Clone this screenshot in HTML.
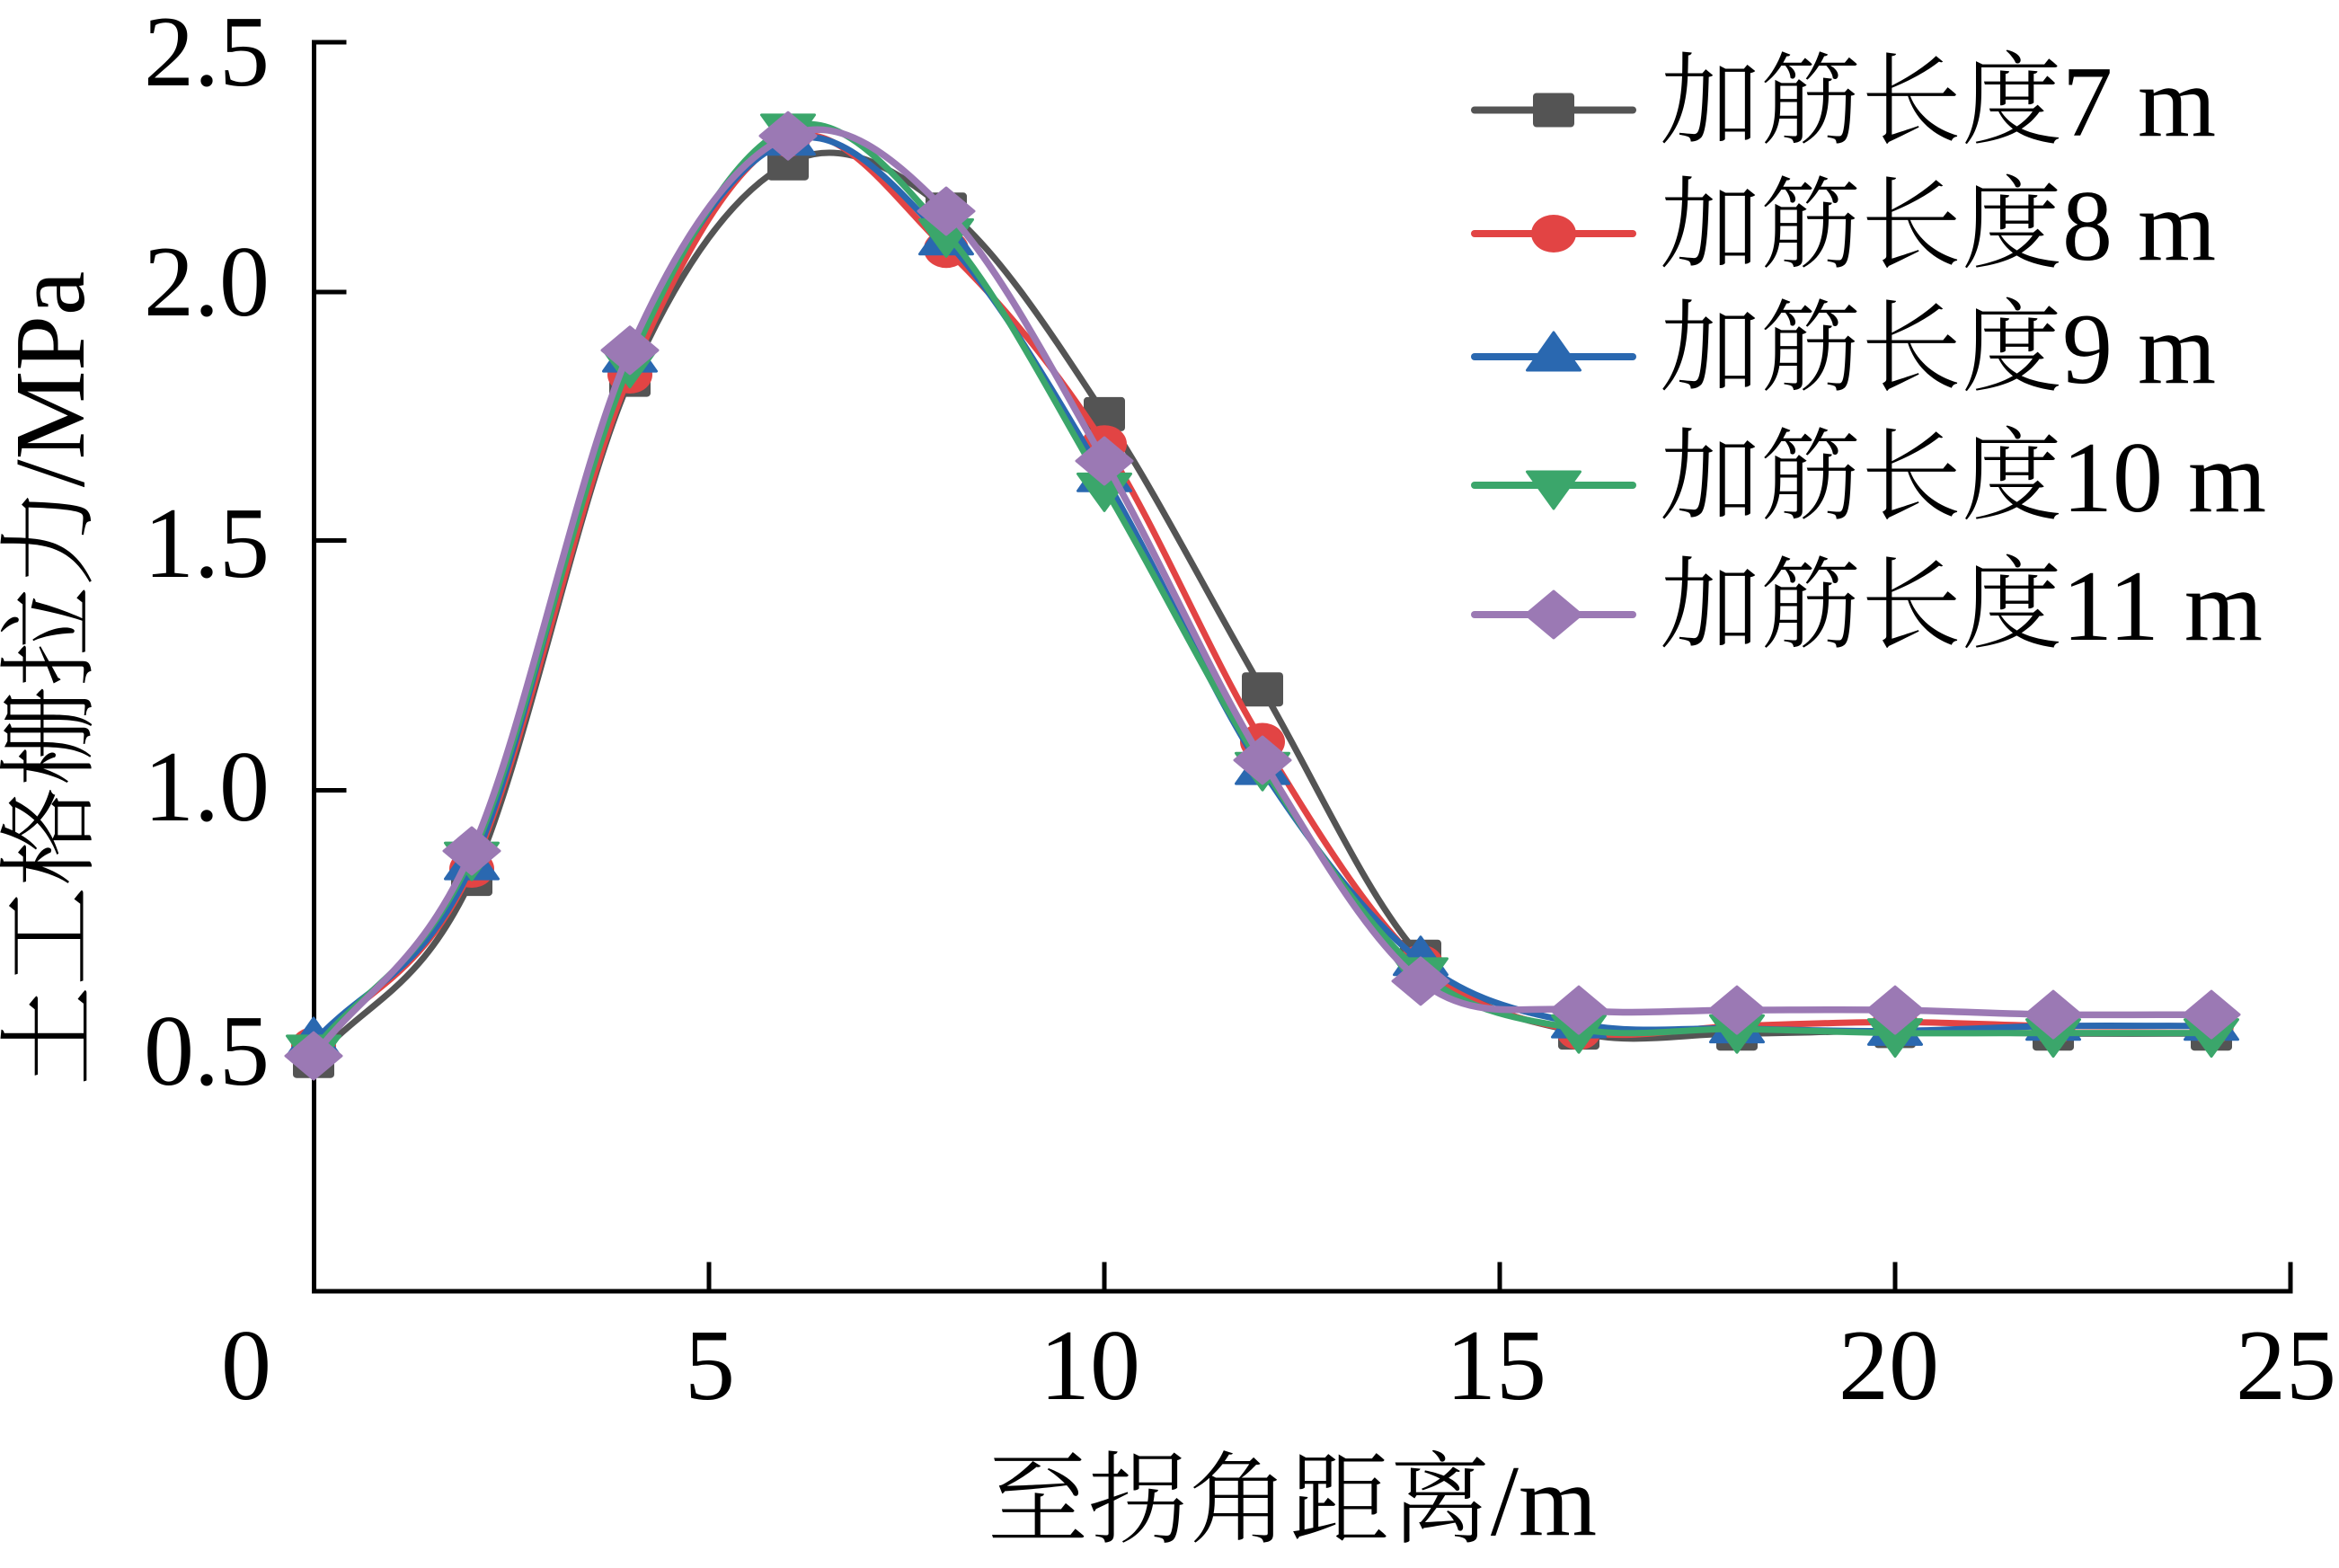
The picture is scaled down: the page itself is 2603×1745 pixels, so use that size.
<!DOCTYPE html>
<html>
<head>
<meta charset="utf-8">
<style>
  html,body{margin:0;padding:0;background:#fff;}
  svg{display:block;}
  text{font-family:"Liberation Serif","Noto Serif CJK SC",serif;fill:#000;font-weight:300;}
</style>
</head>
<body>
<svg width="2603" height="1745" viewBox="0 0 2603 1745" xmlns="http://www.w3.org/2000/svg">
  <defs>
    <g id="sq"><rect x="-23" y="-19" width="46" height="38" rx="4" ry="4" fill="#545454"/></g>
    <g id="ci"><ellipse cx="0" cy="0" rx="25" ry="21" fill="#E24444"/></g>
    <g id="tu"><polygon points="0,-27 29.5,15 -29.5,15" fill="#2A68B0" stroke="#2A68B0" stroke-width="3" stroke-linejoin="round"/></g>
    <g id="td"><polygon points="-29.5,-15 29.5,-15 0,26" fill="#3BA66B" stroke="#3BA66B" stroke-width="3" stroke-linejoin="round"/></g>
    <g id="di"><polygon points="0,-26 31,0 0,26 -31,0" fill="#9B79B4" stroke="#9B79B4" stroke-width="3" stroke-linejoin="round"/></g>
  </defs>

  <!-- Axes -->
  <g stroke="#000" stroke-width="5" fill="none" stroke-linecap="square">
    <path d="M383,47 L349.5,47 L349.5,1437 L2549,1437 L2549,1407"/>
    <line x1="349.5" y1="325" x2="383" y2="325"/>
    <line x1="349.5" y1="601.5" x2="383" y2="601.5"/>
    <line x1="349.5" y1="879.5" x2="383" y2="879.5"/>
    <line x1="789" y1="1437" x2="789" y2="1407"/>
    <line x1="1229" y1="1437" x2="1229" y2="1407"/>
    <line x1="1669" y1="1437" x2="1669" y2="1407"/>
    <line x1="2109" y1="1437" x2="2109" y2="1407"/>
  </g>

  <!-- Y tick labels -->
  <g font-size="112" text-anchor="end">
    <text x="300" y="95">2.5</text>
    <text x="300" y="351">2.0</text>
    <text x="300" y="642">1.5</text>
    <text x="300" y="913">1.0</text>
    <text x="300" y="1207">0.5</text>
  </g>
  <!-- X tick labels -->
  <g font-size="112" text-anchor="middle">
    <text x="274" y="1557">0</text>
    <text x="790" y="1557">5</text>
    <text x="1213" y="1557">10</text>
    <text x="1665" y="1557">15</text>
    <text x="2102" y="1557">20</text>
    <text x="2544" y="1557">25</text>
  </g>

  <!-- Axis titles -->
  <text x="1438" y="1708" font-size="112" text-anchor="middle">至拐角距离/m</text>
  <text transform="translate(93,755) rotate(-90)" font-size="111" text-anchor="middle">土工格栅拉力/MPa</text>

  <!-- Series: gray 7m -->
  <path fill="none" stroke="#545454" stroke-width="7" stroke-linejoin="round" stroke-linecap="round"
    d="M349,1180.7 C407.7,1113.2 466.3,1104.5 525,978.1 C583.7,851.7 642.3,555.3 701,422.6 C759.7,289.9 818.3,213.3 877,181.7 C935.7,150.1 994.3,186.8 1053,233.3 C1111.7,279.8 1170.3,371.9 1229,460.9 C1287.7,549.9 1346.3,666.6 1405,767.2 C1463.7,867.8 1522.3,1001 1581,1064.7 C1639.7,1128.4 1698.3,1134.8 1757,1149.1 C1815.7,1163.4 1874.3,1150.5 1933,1150.2 C1991.7,1149.9 2050.3,1147.4 2109,1147.4 C2167.7,1147.4 2226.3,1149.7 2285,1150.2 C2343.7,1150.7 2402.3,1150.2 2461,1150.2"/>
  <use href="#sq" x="349" y="1180.7"/><use href="#sq" x="525" y="978.1"/><use href="#sq" x="701" y="422.6"/><use href="#sq" x="877" y="181.7"/><use href="#sq" x="1053" y="233.3"/><use href="#sq" x="1229" y="460.9"/><use href="#sq" x="1405" y="767.2"/><use href="#sq" x="1581" y="1064.7"/><use href="#sq" x="1757" y="1149.1"/><use href="#sq" x="1933" y="1150.2"/><use href="#sq" x="2109" y="1147.4"/><use href="#sq" x="2285" y="1150.2"/><use href="#sq" x="2461" y="1150.2"/>

  <!-- Series: red 8m -->
  <path fill="none" stroke="#E24444" stroke-width="7" stroke-linejoin="round" stroke-linecap="round"
    d="M349,1164.1 C407.7,1098.4 466.3,1091.5 525,967.0 C583.7,842.5 642.3,552.5 701,417.0 C759.7,281.5 818.3,177.2 877,153.9 C935.7,130.6 994.3,220.5 1053,277.2 C1111.7,333.9 1170.3,402.8 1229,494.2 C1287.7,585.6 1346.3,729.1 1405,825.5 C1463.7,921.9 1522.3,1018.8 1581,1072.5 C1639.7,1126.2 1698.3,1135.8 1757,1147.4 C1815.7,1159.0 1874.3,1143.5 1933,1141.8 C1991.7,1140.1 2050.3,1137.4 2109,1137.4 C2167.7,1137.4 2226.3,1141.1 2285,1141.8 C2343.7,1142.5 2402.3,1141.8 2461,1141.8"/>
  <use href="#ci" x="349" y="1164.1"/><use href="#ci" x="525" y="967.0"/><use href="#ci" x="701" y="417.0"/><use href="#ci" x="877" y="153.9"/><use href="#ci" x="1053" y="277.2"/><use href="#ci" x="1229" y="494.2"/><use href="#ci" x="1405" y="825.5"/><use href="#ci" x="1581" y="1072.5"/><use href="#ci" x="1757" y="1147.4"/><use href="#ci" x="1933" y="1141.8"/><use href="#ci" x="2109" y="1137.4"/><use href="#ci" x="2285" y="1141.8"/><use href="#ci" x="2461" y="1141.8"/>

  <!-- Series: blue 9m -->
  <path fill="none" stroke="#2A68B0" stroke-width="7" stroke-linejoin="round" stroke-linecap="round"
    d="M349,1160 C407.7,1094.4 466.3,1090.1 525,963.1 C583.7,836.1 642.3,532.5 701,398.1 C759.7,263.7 818.3,178.4 877,156.7 C935.7,135.0 994.3,205.3 1053,267.7 C1111.7,330.1 1170.3,433.1 1229,531.3 C1287.7,629.5 1346.3,767.4 1405,857.1 C1463.7,946.8 1522.3,1022.7 1581,1069.7 C1639.7,1116.7 1698.3,1126.6 1757,1139.1 C1815.7,1151.6 1874.3,1143.2 1933,1144.6 C1991.7,1146.0 2050.3,1147.9 2109,1147.4 C2167.7,1146.9 2226.3,1142.7 2285,1141.8 C2343.7,1140.9 2402.3,1141.8 2461,1141.8"/>
  <use href="#tu" x="349" y="1160"/><use href="#tu" x="525" y="963.1"/><use href="#tu" x="701" y="398.1"/><use href="#tu" x="877" y="156.7"/><use href="#tu" x="1053" y="267.7"/><use href="#tu" x="1229" y="531.3"/><use href="#tu" x="1405" y="857.1"/><use href="#tu" x="1581" y="1069.7"/><use href="#tu" x="1757" y="1139.1"/><use href="#tu" x="1933" y="1144.6"/><use href="#tu" x="2109" y="1147.4"/><use href="#tu" x="2285" y="1141.8"/><use href="#tu" x="2461" y="1141.8"/>

  <!-- Series: green 10m -->
  <path fill="none" stroke="#3BA66B" stroke-width="7" stroke-linejoin="round" stroke-linecap="round"
    d="M349,1167.9 C407.7,1096.3 466.3,1080.3 525,953.1 C583.7,825.9 642.3,539.8 701,404.8 C759.7,269.8 818.3,167.1 877,142.9 C935.7,118.7 994.3,192.8 1053,259.4 C1111.7,326.0 1170.3,443.4 1229,542.4 C1287.7,641.4 1346.3,763.3 1405,853.2 C1463.7,943.1 1522.3,1033.2 1581,1081.9 C1639.7,1130.6 1698.3,1134.6 1757,1145.2 C1815.7,1155.8 1874.3,1144.5 1933,1145.2 C1991.7,1145.9 2050.3,1148.9 2109,1149.6 C2167.7,1150.3 2226.3,1149.6 2285,1149.6 C2343.7,1149.6 2402.3,1149.6 2461,1149.6"/>
  <use href="#td" x="349" y="1167.9"/><use href="#td" x="525" y="953.1"/><use href="#td" x="701" y="404.8"/><use href="#td" x="877" y="142.9"/><use href="#td" x="1053" y="259.4"/><use href="#td" x="1229" y="542.4"/><use href="#td" x="1405" y="853.2"/><use href="#td" x="1581" y="1081.9"/><use href="#td" x="1757" y="1145.2"/><use href="#td" x="1933" y="1145.2"/><use href="#td" x="2109" y="1149.6"/><use href="#td" x="2285" y="1149.6"/><use href="#td" x="2461" y="1149.6"/>

  <!-- Series: purple 11m -->
  <path fill="none" stroke="#9B79B4" stroke-width="7.5" stroke-linejoin="round" stroke-linecap="round"
    d="M349,1175.1 C407.7,1099.1 466.3,1077.9 525,947.0 C583.7,816.1 642.3,522.4 701,389.8 C759.7,257.2 818.3,177.0 877,151.2 C935.7,125.4 994.3,174.7 1053,235.0 C1111.7,295.3 1170.3,411.2 1229,513.0 C1287.7,614.8 1346.3,749.5 1405,846.0 C1463.7,942.5 1522.3,1045.5 1581,1091.9 C1639.7,1138.3 1698.3,1118.7 1757,1124.1 C1815.7,1129.5 1874.3,1124.1 1933,1124.1 C1991.7,1124.1 2050.3,1123.3 2109,1124.1 C2167.7,1124.9 2226.3,1128.3 2285,1129.1 C2343.7,1129.9 2402.3,1129.1 2461,1129.1"/>
  <use href="#di" x="349" y="1175.1"/><use href="#di" x="525" y="947.0"/><use href="#di" x="701" y="389.8"/><use href="#di" x="877" y="151.2"/><use href="#di" x="1053" y="235.0"/><use href="#di" x="1229" y="513.0"/><use href="#di" x="1405" y="846.0"/><use href="#di" x="1581" y="1091.9"/><use href="#di" x="1757" y="1124.1"/><use href="#di" x="1933" y="1124.1"/><use href="#di" x="2109" y="1124.1"/><use href="#di" x="2285" y="1129.1"/><use href="#di" x="2461" y="1129.1"/>

  <!-- Legend -->
  <g stroke-width="8" stroke-linecap="round">
    <line x1="1641" y1="122.5" x2="1817" y2="122.5" stroke="#545454"/>
    <line x1="1641" y1="260" x2="1817" y2="260" stroke="#E24444"/>
    <line x1="1641" y1="397" x2="1817" y2="397" stroke="#2A68B0"/>
    <line x1="1641" y1="540" x2="1817" y2="540" stroke="#3BA66B"/>
    <line x1="1641" y1="684" x2="1817" y2="684" stroke="#9B79B4"/>
  </g>
  <use href="#sq" x="1729" y="122.5"/>
  <use href="#ci" x="1729" y="260"/>
  <use href="#tu" x="1729" y="397"/>
  <use href="#td" x="1729" y="540"/>
  <use href="#di" x="1729" y="684"/>
  <g font-size="112">
    <text x="1847" y="151">加筋长度7 m</text>
    <text x="1847" y="289">加筋长度8 m</text>
    <text x="1847" y="426">加筋长度9 m</text>
    <text x="1847" y="569">加筋长度10 m</text>
    <text x="1847" y="712">加筋长度11 m</text>
  </g>
</svg>
</body>
</html>
